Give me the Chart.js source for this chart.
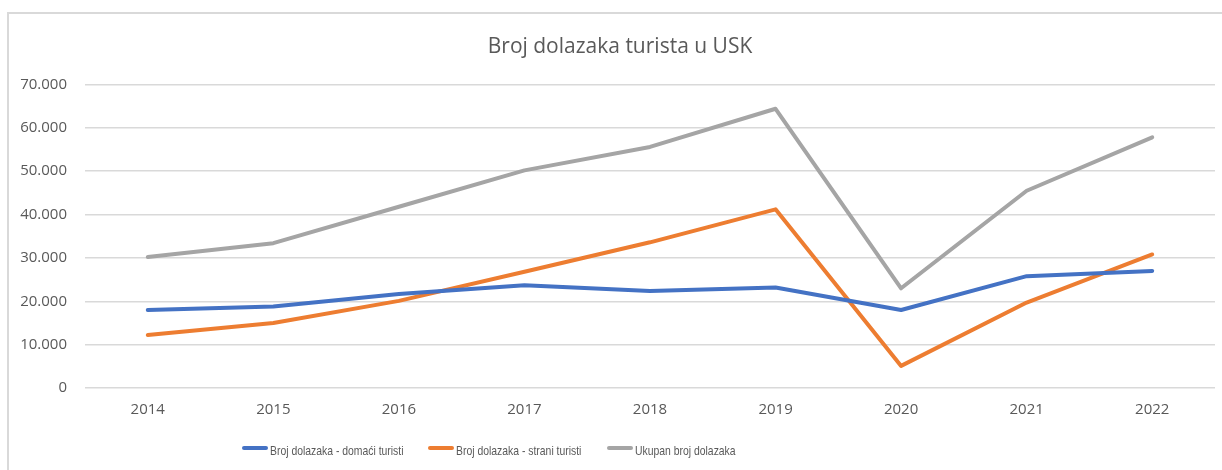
<!DOCTYPE html>
<html>
<head>
<meta charset="utf-8">
<script src="https://cdn.jsdelivr.net/npm/chart.js@4"></script>
<style>
  html, body { margin: 0; padding: 0; background: #fff; }
  #wrap { position: relative; width: 1222px; height: 470px; overflow: hidden; }
  #frame { position: absolute; left: 7px; top: 12px; width: 1400px; height: 600px;
           border-left: 2px solid #d9d9d9; border-top: 2px solid #d9d9d9; box-sizing: border-box; }
  canvas { position: absolute; left: 0; top: 0; }
</style>
</head>
<body>
<div id="wrap">
  <div id="frame"></div>
  <canvas id="c" width="1222" height="470"></canvas>
</div>
<script>
const years = ['2014', '2015', '2016', '2017', '2018', '2019', '2020', '2021', '2022'];
const domaci = [18000, 18800, 21700, 23700, 22400, 23200, 18000, 25800, 27000];
const strani = [12200, 15000, 20100, 26800, 33600, 41200, 5100, 19700, 30800];
const ukupno = [30200, 33400, 41800, 50200, 55600, 64400, 23000, 45500, 57800];
const seriesNames = ['Broj dolazaka - domaći turisti', 'Broj dolazaka - strani turisti', 'Ukupan broj dolazaka'];
const titleText = 'Broj dolazaka turista u USK';

const fmt = v => String(v).replace(/\B(?=(\d{3})+(?!\d))/g, '.');

const titlePlace = {
  id: 'titlePlace',
  afterLayout(chart) {
    const t = chart.titleBlock;
    if (!t) return;
    t.left = 620 - 300;
    t.right = 620 + 300;
  }
};

const customLegend = {
  id: 'customLegend',
  afterDraw(chart) {
    const ctx = chart.ctx;
    const starts = [242, 428, 607];
    const lineLen = 26, lineY = 448, textBase = 454.5, sx = 0.8;
    ctx.save();
    ctx.font = '13px "Liberation Sans", Arial, sans-serif';
    ctx.textBaseline = 'alphabetic';
    ctx.textAlign = 'left';
    chart.data.datasets.forEach((d, i) => {
      const x = starts[i];
      ctx.strokeStyle = d.borderColor;
      ctx.lineWidth = 4;
      ctx.lineCap = 'round';
      ctx.beginPath();
      ctx.moveTo(x + 2, lineY);
      ctx.lineTo(x + lineLen - 2, lineY);
      ctx.stroke();
      ctx.save();
      ctx.translate(x + lineLen + 2, textBase);
      ctx.scale(sx, 1);
      ctx.fillStyle = '#595959';
      ctx.fillText(d.label, 0, 0);
      ctx.restore();
    });
    ctx.restore();
  }
};

const ds = (label, data, color) => ({
  label, data,
  borderColor: color, backgroundColor: color,
  borderWidth: 4, pointRadius: 0, pointHoverRadius: 0,
  tension: 0, borderCapStyle: 'round', borderJoinStyle: 'round', fill: false
});

new Chart(document.getElementById('c'), {
  type: 'line',
  data: {
    labels: years,
    datasets: [
      ds(seriesNames[0], domaci, '#4472C4'),
      ds(seriesNames[1], strani, '#ED7D31'),
      ds(seriesNames[2], ukupno, '#A5A5A5')
    ]
  },
  options: {
    responsive: false,
    animation: false,
    events: [],
    layout: { padding: { top: 34.5, left: 0, right: 7, bottom: 42 } },
    plugins: {
      title: {
        display: true, text: titleText, color: '#595959',
        font: { family: '"Open Sans", sans-serif', size: 21, weight: 'normal' },
        padding: { top: 0, bottom: 24.8 }
      },
      legend: { display: false },
      tooltip: { enabled: false }
    },
    scales: {
      x: {
        offset: true,
        grid: { display: false, drawTicks: false },
        border: { display: false },
        ticks: { color: '#595959', padding: 13, font: { family: '"Open Sans", sans-serif', size: 15 } },
        afterFit(s) { s.height = 40; }
      },
      y: {
        min: 0, max: 70000,
        grid: { color: '#d9d9d9', lineWidth: 1.5, drawTicks: false },
        border: { display: false },
        ticks: {
          stepSize: 10000, color: '#595959', padding: 18,
          font: { family: '"Open Sans", sans-serif', size: 15 },
          callback: v => fmt(v)
        },
        afterFit(s) { s.width = 85; }
      }
    }
  },
  plugins: [titlePlace, customLegend]
});
</script>
</body>
</html>
